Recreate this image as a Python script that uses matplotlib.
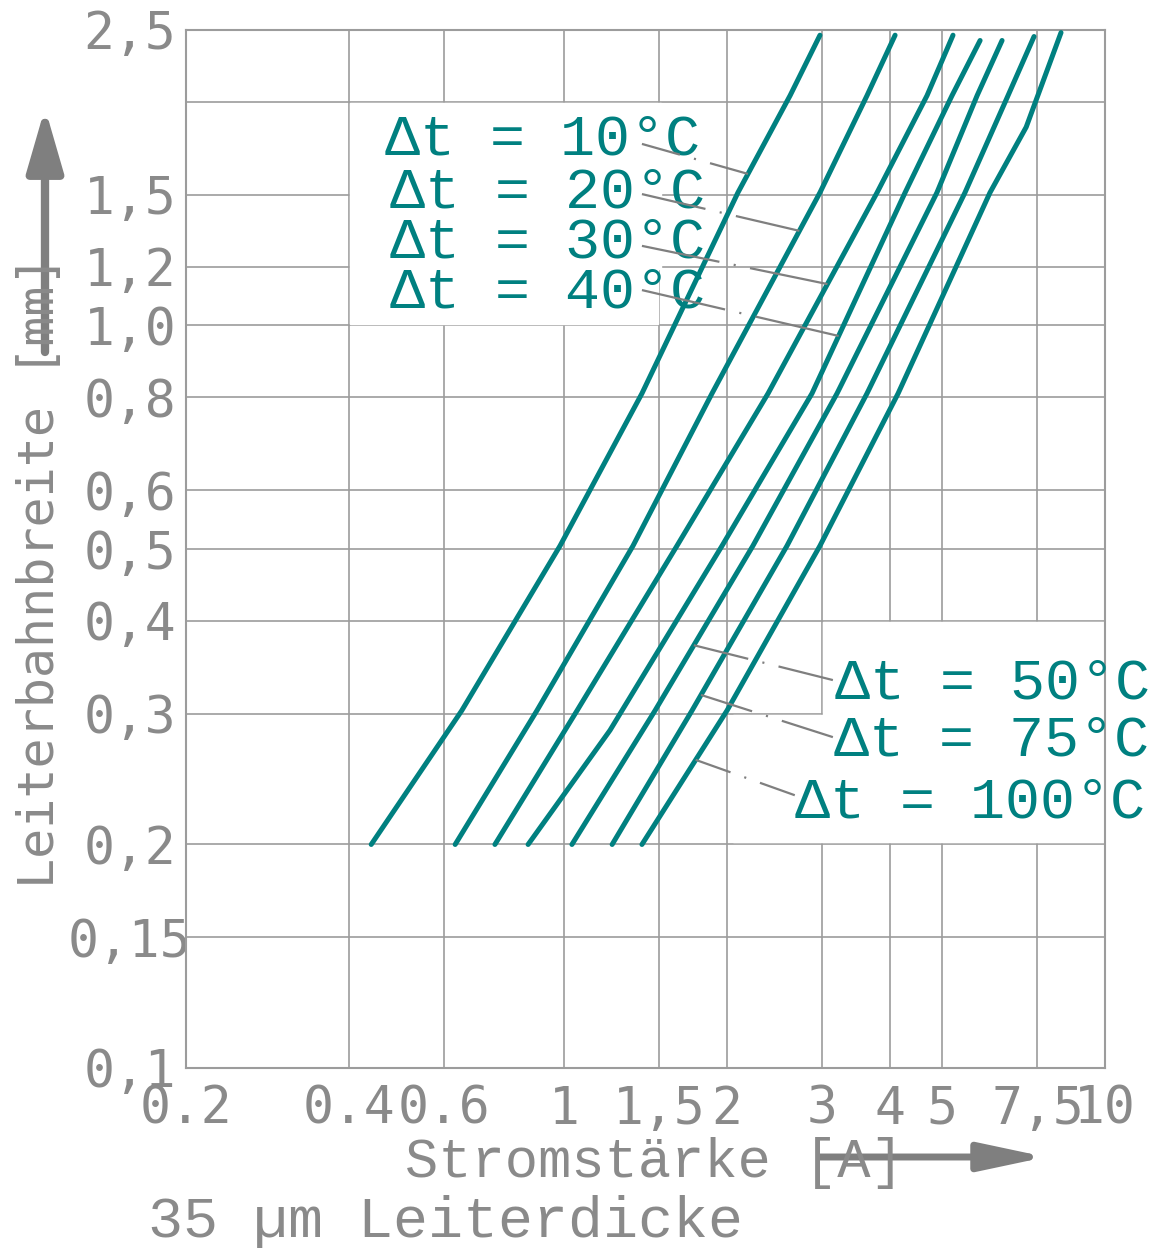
import numpy as np
import matplotlib.pyplot as plt
from matplotlib.patches import Rectangle
from matplotlib.ticker import NullLocator
from matplotlib.transforms import ScaledTranslation

plt.rcParams['font.family'] = ['DejaVu Sans Mono', 'DejaVu Sans']
plt.rcParams['lines.scale_dashes'] = False

teal = '#008080'
text_gray = '#8a8a8a'
grid_gray = '#9c9c9c'
arrow_gray = '#7f7f7f'
wide_font = ['Liberation Mono', 'DejaVu Sans Mono']

# axis ticks
x_ticks = [0.2, 0.4, 0.6, 1, 1.5, 2, 3, 4, 5, 7.5, 10]
x_tick_labels = ['0.2', '0.4', '0.6', '1', '1,5', '2', '3', '4', '5', '7,5', '10']
y_ticks = [0.1, 0.15, 0.2, 0.3, 0.4, 0.5, 0.6, 0.8, 1.0, 1.2, 1.5, 2.0, 2.5]
y_tick_labels = ['0,1', '0,15', '0,2', '0,3', '0,4', '0,5', '0,6', '0,8',
                 '1,0', '1,2', '1,5', '', '2,5']

# curves: track width [mm] vs current [A] for each temperature rise
delta_t = [10, 20, 30, 40, 50, 75, 100]

w_10 = [0.2, 0.303, 0.505, 0.81, 1.51, 2.04, 2.46]
i_10 = [0.440, 0.647, 0.983, 1.393, 2.096, 2.617, 2.972]

w_20 = [0.2, 0.303, 0.505, 0.81, 1.51, 2.04, 2.46]
i_20 = [0.629, 0.891, 1.341, 1.877, 2.972, 3.631, 4.092]

w_30 = [0.2, 0.303, 0.505, 0.81, 1.51, 2.04, 2.46]
i_30 = [0.745, 1.057, 1.617, 2.383, 3.790, 4.688, 5.236]

w_40 = [0.2, 0.285, 0.505, 0.81, 1.51, 2.04, 2.42]
i_40 = [0.858, 1.216, 1.959, 2.873, 4.270, 5.214, 5.876]

w_50 = [0.2, 0.303, 0.505, 0.81, 1.51, 2.04, 2.42]
i_50 = [1.034, 1.473, 2.234, 3.196, 4.890, 5.802, 6.452]

w_75 = [0.2, 0.303, 0.505, 0.81, 1.51, 2.04, 2.45]
i_75 = [1.227, 1.724, 2.583, 3.631, 5.510, 6.618, 7.393]

w_100 = [0.2, 0.303, 0.505, 0.81, 1.51, 1.85, 2.48]
i_100 = [1.393, 2.001, 2.972, 4.145, 6.129, 7.15, 8.293]

widths = [w_10, w_20, w_30, w_40, w_50, w_75, w_100]
currents = [i_10, i_20, i_30, i_40, i_50, i_75, i_100]

# label placement (data coords): text anchor, leader start, leader end height on curve
label_xy = [(0.467, 1.778), (0.477, 1.512), (0.477, 1.292), (0.477, 1.106),
            (3.17, 0.329), (3.15, 0.2757), (2.67, 0.2275)]
leader_start = [(1.393, 1.756), (1.393, 1.503), (1.393, 1.280), (1.393, 1.116),
                (3.14, 0.333), (3.14, 0.279), (2.67, 0.233)]
leader_end_w = [1.600, 1.341, 1.137, 0.968, 0.371, 0.318, 0.260]

fig = plt.figure(figsize=(11.55, 12.49), dpi=100)
ax = fig.add_axes([186 / 1155, 1 - 1068 / 1249, 919 / 1155, 1038 / 1249])
ax.set_xscale('log')
ax.set_yscale('log')
ax.set_xlim(0.2, 10)
ax.set_ylim(0.1, 2.5)
ax.set_xticks(x_ticks)
ax.set_xticklabels(x_tick_labels)
ax.set_yticks(y_ticks)
ax.set_yticklabels(y_tick_labels)
ax.xaxis.set_minor_locator(NullLocator())
ax.yaxis.set_minor_locator(NullLocator())
ax.tick_params(length=0, labelsize=37, labelcolor=text_gray)
ax.tick_params(axis='x', pad=12)
ax.tick_params(axis='y', pad=7)
ax.grid(True, color=grid_gray, lw=1.2)
ax.set_axisbelow(True)
for s in ax.spines.values():
    s.set_color(grid_gray)
    s.set_linewidth(1.5)

# '0,15' pokes out to the right of the label column
for lab in ax.get_yticklabels():
    if lab.get_text() == '0,15':
        lab.set_transform(lab.get_transform() + ScaledTranslation(0.15, 0, fig.dpi_scale_trans))

# white label boxes hiding the grid
ax.add_patch(Rectangle((0.4025, 1.19), 1.51 - 0.4025, 1.995 - 1.19, color='white', zorder=1))
ax.add_patch(Rectangle((0.4025, 1.004), 1.494 - 0.4025, 1.19 - 1.004, color='white', zorder=1))
ax.add_patch(Rectangle((3.013, 0.2985), 10 - 3.013, 0.3985 - 0.2985, color='white', zorder=1))
ax.add_patch(Rectangle((2.05, 0.2016), 10 - 2.05, 0.2985 - 0.2016, color='white', zorder=1))

for w, i in zip(widths, currents):
    ax.plot(i, w, color=teal, lw=3.6, solid_capstyle='round', solid_joinstyle='round', zorder=3)

fig.canvas.draw()
for k, dt in enumerate(delta_t):
    ax.text(label_xy[k][0], label_xy[k][1], f'Δt = {dt}°C', color=teal, fontsize=42,
            family=wide_font, ha='left', va='center', zorder=4)
    x0, y0 = leader_start[k]
    y1 = leader_end_w[k]
    x1 = np.exp(np.interp(np.log(y1), np.log(widths[k]), np.log(currents[k])))
    p0 = ax.transData.transform((x0, y0))
    p1 = ax.transData.transform((x1, y1))
    length = np.hypot(*(p1 - p0)) * 72 / fig.dpi
    gap, dot = 10.5, 1.5
    dash = (length - 2 * gap - dot) / 2
    ax.plot([x0, x1], [y0, y1], color=arrow_gray, lw=1.6,
            ls=(0, (dash, gap, dot, gap, dash + 5, 0.01)), zorder=5)

fig.text(405 / 1155, 1 - 1163 / 1249, 'Stromstärke [A]', color=text_gray, fontsize=40,
         family=wide_font, ha='left', va='center')
fig.text(148 / 1155, 1 - 1222 / 1249, '35 µm Leiterdicke', color=text_gray, fontsize=42,
         family=wide_font, ha='left', va='center')
fig.text(40 / 1155, 1 - 572 / 1249, 'Leiterbahnbreite [mm]', color=text_gray, fontsize=36,
         rotation=90, ha='center', va='center')

ax.annotate('', xy=(45, 1249 - 108), xycoords='figure pixels',
            xytext=(45, 1249 - 352), textcoords='figure pixels',
            arrowprops=dict(arrowstyle='-|>,head_length=3.8,head_width=1.1', color=arrow_gray,
                            lw=6, shrinkA=0, shrinkB=0, mutation_scale=10),
            annotation_clip=False)
ax.annotate('', xy=(1046, 1249 - 1157), xycoords='figure pixels',
            xytext=(820, 1249 - 1157), textcoords='figure pixels',
            arrowprops=dict(arrowstyle='-|>,head_length=4.0,head_width=0.85', color=arrow_gray,
                            lw=5, shrinkA=0, shrinkB=0, mutation_scale=10),
            annotation_clip=False)

fig.savefig('out.png', dpi=100)
